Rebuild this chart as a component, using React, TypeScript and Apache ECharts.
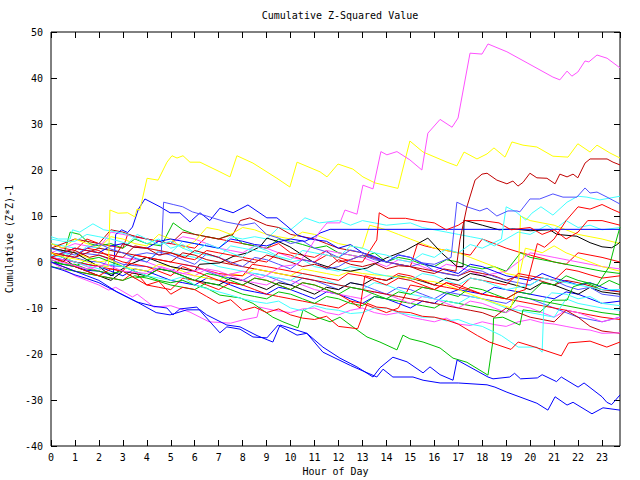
import React, { useEffect, useRef } from "react";
import * as echarts from "echarts";

// ---- colours ----
const RED = "#ff0000";
const GREEN = "#00c000";
const BLUE = "#0000ff";
const MAGENTA = "#ff50ff";
const CYAN = "#40ffff";
const YELLOW = "#ffff00";
const BLACK = "#000000";
const DARKRED = "#c00000";
const MBLUE = "#5050ff";

// ---- axis ----
const X_MIN = 0;
const X_MAX = 23.75;
const Y_MIN = -40;
const Y_MAX = 50;
const TITLE = "Cumulative Z-Squared Value";
const X_NAME = "Hour of Day";
const Y_NAME = "Cumulative (Z*Z)-1";

// ---- series data: [hour, cumulative value] ----
const magentaTop = [[0,0.5],[0.8,-0.5],[1.5,-1.5],[2.3,-0.5],[3,-2],[4,-2.5],[4.6,-1],[5.5,-2.5],[6.3,-1.5],[7.2,-3],[8,-2],[8.8,-3.5],[9.6,-1],[10.3,-0.5],[10.8,3],[11.2,6.5],[11.52,8.5],[12.06,8.5],[12.27,11.3],[12.77,10.4],[13.02,16.7],[13.44,15.9],[13.77,24],[14.02,23.3],[14.44,24],[14.98,22.2],[15.48,20],[15.73,28],[16.24,31],[16.74,29.3],[16.99,31.3],[17.49,45.4],[17.99,45.2],[18.24,47.4],[19.03,45.7],[19.87,43.3],[20.95,40.2],[21.24,39.6],[21.54,41.5],[21.74,40.4],[21.99,41.3],[22.29,43.7],[22.45,43.5],[22.79,45],[23.21,44.3],[23.75,42.2]];
const yellowHigh = [[0,2],[0.6,1],[1.2,0.5],[1.8,-0.5],[2.4,-1],[2.46,11.3],[2.8,10.6],[3.2,10.7],[3.5,9.8],[3.59,11.5],[3.71,11.3],[4.01,18.2],[4.47,17.8],[4.84,21.7],[5.05,23.1],[5.26,22.6],[5.51,23.1],[5.8,21.7],[6.22,21.7],[7.05,19.6],[7.47,18.5],[7.76,23.1],[8.43,21.5],[9.43,18.2],[9.97,16.3],[10.27,21.7],[11.23,19.6],[11.52,18.5],[11.98,21.3],[12.6,20.2],[13.02,18.5],[13.52,17.2],[14.48,16],[14.98,26.3],[15.53,23.9],[16.53,21.7],[16.94,20.9],[17.24,23.9],[17.78,22.4],[18.2,23.5],[18.49,24.8],[18.95,22.8],[19.24,26.1],[19.7,25.4],[20.28,25],[20.95,23],[21.58,22.8],[21.99,25.7],[22.5,23.9],[22.79,25.4],[23.33,23.7],[23.75,22.6]];
const darkRedHigh = [[0,1],[0.5,0],[1,2.5],[1.6,1],[2,1.5],[2.6,0.5],[3,4],[3.5,3.2],[4,3],[4.5,1.5],[5,2],[5.6,1],[6,2.5],[6.5,1.8],[7,1],[7.5,-0.3],[8,0.5],[8.5,-0.2],[9,1.5],[9.5,0.8],[10,0],[10.5,-1],[11,-0.5],[11.5,-1.3],[12,0.5],[12.5,-0.5],[13,-1],[13.5,-0.3],[14,-1.5],[14.5,-0.8],[15,-1],[15.5,-2],[16,-2.5],[16.4,-1.5],[16.9,-2],[17.07,4.8],[17.36,12],[17.7,17.8],[17.99,19.1],[18.2,19.3],[18.61,17.8],[19.03,17],[19.28,17.6],[19.49,16.5],[19.7,17.3],[19.99,19.3],[20.28,18.3],[20.7,18.2],[21.04,17],[21.24,19.1],[21.54,18.5],[21.79,19.1],[21.99,18.3],[22.29,21.5],[22.5,22.4],[23.21,22.4],[23.46,21.7],[23.75,21.1]];
const mblueHigh = [[0,3],[0.5,2.2],[1,1.5],[1.5,3],[2,4],[2.5,2.8],[3,2],[3.5,0.8],[4,0],[4.5,2.2],[5,1.5],[5.5,0.5],[6,-0.5],[6.5,1.8],[7,1],[7.5,0],[8,-1],[8.5,1],[9,0.5],[9.5,-0.5],[10,-1.5],[10.5,0.5],[11,0],[11.5,-1.5],[12,-1],[12.5,0.5],[13,1.5],[13.5,0.5],[14,0],[14.5,1.6],[15,1],[15.5,-0.2],[16,-0.5],[16.7,1],[16.94,13],[17.36,12],[17.9,11.1],[18.2,11.7],[18.61,10],[19.07,11.1],[19.45,11.1],[19.57,10.9],[19.99,13.7],[20.4,13.7],[20.95,14.8],[21.37,14.1],[21.95,14.1],[22.29,16.1],[22.5,15],[22.79,15.2],[23.21,14.1],[23.75,12.6]];
const cyanHigh = [[0,5],[0.5,4.5],[1,4.5],[1.5,6],[2,5.5],[2.5,5],[3.2,4],[3.6,6],[4,5],[4.5,3.8],[5,4.5],[5.5,3],[6,2],[6.5,4],[7,3],[7.5,2],[8,1],[8.5,3.5],[9,2.5],[9.5,1.2],[10,0.5],[10.5,2.5],[11,2],[11.5,1.5],[12,1],[12.5,3.5],[13,3],[13.5,2],[14,1.5],[14.5,0.5],[15,0],[15.5,1.8],[16,1],[16.5,2.8],[17,2],[17.5,3.8],[18,3],[18.4,4],[18.8,5],[19.0,12],[19.41,10.9],[19.82,9.1],[20.07,10.6],[20.45,12],[20.95,10.2],[21.54,13],[21.99,14.3],[22.37,14.1],[22.91,13.5],[23.33,13.9],[23.75,14.3]];
const blueLowA = [[0,0],[0.5,-1],[1,-2],[1.5,-3],[2,-4],[2.75,-6.5],[3.59,-8.7],[4.26,-9.6],[4.84,-10],[5.09,-11.5],[5.38,-10.2],[6.09,-9.8],[7.05,-15.4],[7.34,-14.1],[7.89,-14.6],[8.43,-16.3],[9.01,-16.5],[9.48,-13.7],[10.27,-15.9],[10.68,-15.5],[11.35,-18.5],[12.06,-20.9],[12.77,-22.8],[13.44,-25],[13.73,-23],[14.27,-20.7],[14.86,-21.7],[15.53,-24.1],[15.82,-22.8],[16.24,-24.5],[16.78,-25.7],[16.95,-21.3],[18.24,-25],[18.45,-25.4],[19.15,-25],[19.35,-24.2],[19.6,-25.4],[20.3,-25.2],[20.5,-24.5],[21.1,-26],[21.3,-25],[22.0,-27.2],[22.25,-26.3],[23.0,-29.3],[23.2,-30.5],[23.4,-31],[23.75,-28.9]];
const blueLowB = [[0,-1],[0.5,-1.8],[1,-2.8],[1.5,-3.6],[2,-4.5],[2.75,-6.5],[3.59,-8.7],[4.39,-11],[4.97,-11.5],[5.67,-10.4],[6.22,-10.4],[6.5,-11.5],[7.34,-13.7],[7.89,-14.1],[8.6,-16],[9.26,-17.4],[9.56,-13.7],[10.68,-15.5],[11.35,-19.6],[12.5,-22.5],[13.6,-25],[13.86,-23.3],[14.27,-25],[15.11,-25],[15.53,-25.7],[16.24,-26.3],[17.0,-26.3],[18.2,-26.7],[18.53,-27.2],[19.03,-28.3],[20.28,-30.7],[20.74,-32.2],[21.04,-29.3],[21.54,-31.1],[21.79,-30.5],[22.58,-33],[23.04,-31.7],[23.75,-32.2]];
const greenJump = [[0,0.5],[0.5,-0.5],[1,-0.5],[1.5,-1.5],[2,-2],[2.5,-2.5],[3,-2],[3.5,-3.5],[4,-3],[4.5,-4],[5,-4.5],[5.5,-4],[6,-5],[6.5,-5.7],[7.05,-7.2],[7.89,-7.8],[8.43,-9],[9.26,-12],[9.68,-13],[10.31,-14.3],[10.52,-10.4],[11.1,-12],[11.65,-13],[12.06,-12],[12.6,-14.1],[13.19,-16.3],[13.73,-17.4],[14.44,-19.1],[14.69,-15.9],[14.98,-16.7],[15.53,-17.4],[16.24,-18.7],[16.78,-20.9],[17.36,-21.8],[18.24,-24.6],[18.45,-17],[18.47,-12.2],[18.86,-12],[19.57,-13.7],[19.7,-10.4],[20.41,-10.9],[20.95,-8.3],[21.54,-8.3],[21.79,-5.4],[22.3,-4.5],[22.8,-5.5],[23.3,-4],[23.75,-5]];
const redLow = [[0,1],[0.5,0.2],[1,-1],[1.5,-2],[2,-3],[2.5,-1.5],[3,-2],[3.5,-3.5],[4,-5],[4.5,-4.2],[5,-7],[5.5,-5.5],[6,-6],[6.5,-7.5],[7,-9],[7.5,-8.2],[8,-10.5],[8.5,-9.8],[9,-11],[9.5,-10.2],[10,-11.5],[10.5,-12.2],[11,-12.5],[11.5,-11.8],[12,-14],[12.8,-14.5],[13.2,-9],[13.6,-9.8],[14,-10],[14.5,-10.8],[15,-11],[15.5,-11.8],[16,-12],[16.5,-12.6],[17,-13.5],[17.8,-16],[18.3,-17.4],[19.2,-19],[19.5,-17.4],[20.2,-18.5],[21.3,-20.4],[21.6,-17.6],[22.5,-17.2],[23.2,-18.5],[23.75,-17.4]];
const blackOne = [[0,3],[0.5,2.5],[1,2],[1.5,0.5],[2,-1],[2.5,-3],[3.3,-0.5],[4,1],[4.5,0],[5,-1],[5.5,-1.5],[6,-2],[6.2,-0.5],[7.05,-0.2],[7.6,1.2],[8.2,2],[8.72,3.3],[9.01,5.2],[9.56,4.3],[9.97,3.3],[10.5,1.5],[10.94,0],[11.52,-1],[12.06,-1.7],[12.5,-2],[13.2,-1.3],[14.0,0.9],[14.8,2.5],[15.73,5.2],[16.3,2],[16.95,-1],[17.2,-1],[17.24,9.1],[18.0,8],[18.7,7],[19.3,7.2],[20.0,6.8],[20.82,7],[21.12,6],[21.95,5.6],[22.5,4.2],[23.0,3.3],[23.4,3.1],[23.6,3.7],[23.75,4.3]];
const blueFlat = [[0,1],[0.5,2],[1,3],[1.5,2.5],[2,2],[2.5,3.5],[3,4],[3.5,3.2],[4,3],[4.5,4.5],[5,5],[5.5,4.5],[6,4],[6.5,3.5],[7,3],[7.5,5],[8,4.5],[8.5,3.8],[9,3.5],[9.5,4.4],[10,5],[10.6,4.5],[11.0,5.5],[11.23,6.3],[11.65,7.1],[23.75,7.1]];
const bluePeak = [[0,0],[0.5,-0.5],[1,-1],[1.5,-1.8],[2,-2],[2.6,-3],[2.7,6],[2.95,7],[3.2,6.4],[3.4,7.6],[3.65,11.5],[3.92,13.7],[4.55,12],[4.97,10.7],[5.38,10.7],[5.8,8.7],[6.22,10.7],[6.63,9],[7.05,11.7],[7.6,10.7],[8.22,12.4],[9.01,9.6],[9.43,9.6],[9.85,7.8],[10.27,5.9],[10.8,5],[11.5,4.5],[12,3],[12.5,3.8],[13,2],[13.5,1.2],[14,0],[14.5,1.5],[15,1],[15.5,-0.3],[16,-1],[16.5,-1.8],[17,-2.5],[17.5,-0.5],[18,-1],[18.5,-2],[19,-3],[19.5,-3.5],[20,-4],[20.5,-2.5],[21,-3.5],[21.5,-4.2],[22,-5],[22.5,-4.5],[23,-5.5],[23.4,-6.2],[23.75,-6]];
const mblueTwo = [[0,2],[0.5,1.5],[1,1],[1.5,0.2],[2,0],[2.5,-0.8],[3,-1],[3.5,1.5],[4,2],[4.6,1.5],[4.7,13],[5.1,12.5],[5.5,12],[5.9,10.9],[6.5,10],[7.3,8.7],[8,8],[8.5,8.5],[9,6],[9.5,5.2],[10,4],[10.5,4.6],[11,3],[11.5,2.2],[12,1],[12.5,2.6],[13,2],[13.5,0.8],[14,0],[14.5,-0.5],[15,-1],[15.5,-0.2],[16,-2],[16.5,-2.6],[17,-3],[17.5,-1.5],[18,-2],[18.5,-3.2],[19,-4],[19.5,-4.5],[20,-5],[20.5,-3.5],[21,-4],[21.5,-5.2],[22,-6],[22.5,-5.5],[23,-7],[23.75,-7.5]];
const cyanLow = [[0,1.5],[0.5,1],[1,0],[1.5,-0.8],[2,-1.5],[2.5,-0.5],[3,-1],[3.5,-2],[4,-3],[4.5,-3.5],[5,-4],[5.5,-3.2],[6,-5],[6.5,-5.8],[7,-6.5],[7.5,-7.2],[8,-8],[8.5,-8.6],[9,-9],[9.5,-8.5],[10,-10],[10.5,-10.6],[11,-9.5],[11.5,-10.2],[12,-10.5],[12.5,-11.2],[13,-11],[13.5,-10],[14,-10],[14.5,-11],[15,-11.5],[15.5,-12],[16,-12],[16.5,-12.8],[17,-12.5],[17.5,-13.5],[18,-14],[18.8,-16],[19.5,-18.5],[20.28,-18.5],[20.5,-19.6],[20.58,-8.3],[20.9,-6.7],[21.5,-7],[22,-8],[22.5,-7.5],[23,-9],[23.75,-9.5]];
const magentaLow = [[0,0],[0.5,-1.5],[1,-3],[1.5,-4],[2,-5],[2.4,-6.1],[2.7,-5.5],[3.4,-7.6],[3.6,-7],[4.3,-9.8],[5,-9.5],[5.8,-10.9],[6.6,-13],[7.5,-13.3],[8.0,-12.6],[8.6,-12],[8.7,-9.8],[9.3,-10.5],[10,-11],[10.5,-10.2],[11,-10],[11.5,-11],[12,-11.5],[12.5,-10.5],[13,-10],[13.5,-11],[14,-11.5],[14.5,-11],[15,-12],[15.5,-12.5],[16,-13],[16.5,-12.2],[17,-13.5],[17.5,-13.8],[18,-13],[18.5,-13.6],[19,-14],[19.5,-13],[20,-12.5],[20.5,-13.2],[21,-13.5],[21.5,-14],[22,-14.5],[22.5,-14.8],[23,-15.5],[23.75,-15.4]];
const redA = [[0,4],[0.5,3],[1,2.5],[1.5,5],[2,4],[2.5,3.5],[3,3],[3.2,6],[3.6,5.5],[4,5],[4.5,4.5],[5,4],[5.5,3.5],[6,3],[6.5,5.5],[7,5],[7.5,4.5],[8,4],[8.5,3.5],[9,3],[9.5,4],[10,2],[10.5,1.5],[11,1],[11.5,2.5],[12,0],[12.5,0.5],[13,1.5],[13.5,0.8],[14,0],[14.5,-0.5],[15,-1],[15.3,4],[15.6,3.5],[16,3],[16.5,2.5],[17,2],[17.5,1.5],[18,5],[18.5,4],[19,3],[19.5,2.2],[20,1.5],[20.5,0.8],[21,0],[21.5,-0.5],[22,2],[22.5,1.5],[23,1],[23.75,0]];
const redB = [[0,2],[0.5,1],[1,0],[1.5,-0.5],[2,-1],[2.5,-1.5],[3,-2],[3.5,1.5],[4,1],[4.5,0.5],[5,0],[5.5,-0.5],[6,-1],[6.5,-1.8],[7,-2.5],[7.5,-2.8],[8,-3],[8.4,-0.5],[9,-1],[9.5,-1.5],[10,-2],[10.5,-2.5],[11,-3],[11.5,-3.5],[12,-4],[12.4,-2.5],[13,-3],[13.5,-4],[14,-5],[14.5,-3.5],[15,-4],[15.5,-5],[16,-6],[16.5,-4.5],[17,-5],[17.5,-6],[18,-7],[18.5,-7.5],[19,-8],[19.5,-6.5],[19.8,-6],[20.3,4],[20.6,3.2],[21,5],[21.5,9],[22,12],[22.5,11.5],[23,12.5],[23.4,11.5],[23.75,10.7]];
const redC = [[0,1],[0.5,2],[1,3],[1.5,2.5],[2,2],[2.5,1.5],[3,1],[3.5,3.5],[4,3],[4.5,2.5],[5,2],[5.5,1],[6,0.5],[6.5,2.5],[7,2],[7.5,1.5],[8,1],[8.5,0.5],[9,0],[9.5,2],[10,1.5],[10.5,0.5],[11,0],[11.5,1.5],[12,1],[12.5,0.2],[13,0],[13.6,4.8],[13.7,10.7],[14.1,9.5],[14.8,9.5],[15.3,9],[16,8.5],[16.5,7],[17,8],[17.3,9],[18,9],[18.7,8.5],[19.2,7],[20,7.5],[20.5,6],[21,7],[21.5,5],[22,6.5],[22.4,9],[23,9],[23.75,8]];
const greenEnd = [[0,0],[0.5,-0.5],[1,-1],[1.5,0.5],[2,1],[2.5,0],[3,-1],[3.5,-2],[4,-3],[4.5,-1.5],[5,-2],[5.5,-3],[6,-4],[6.5,-2.5],[7,-3],[7.5,-4],[8,-5],[8.5,-3.5],[9,-4],[9.5,-5],[10,-6],[10.5,-4.5],[11,-5],[11.5,-6],[12,-7],[12.5,-5.5],[13,-6],[13.5,-7],[14,-8],[14.5,-6.5],[15,-7],[15.5,-5.5],[16,-6],[16.5,-6.8],[17,-7.5],[17.5,-5.5],[18,-6],[18.5,-7],[19,-8],[19.5,-6.5],[20,-7],[20.5,-4.5],[21,-5],[21.5,-3],[22,-4],[22.8,-5],[23.3,-1],[23.5,3],[23.75,7.6]];
const greenUpper = [[0,2],[0.5,1],[0.8,6.5],[1.2,6],[1.6,4],[2,3.5],[2.5,4],[3,3],[3.5,5],[4,4],[4.6,3.5],[5.1,8.5],[5.5,7],[6,6],[6.5,5.5],[7,5],[7.5,6],[8,4],[8.5,3.5],[9,3],[9.5,5],[10,4.5],[10.5,3.8],[11,3],[11.5,3.5],[12,2],[12.5,1.5],[13,1],[13.5,2],[14,0],[14.5,1],[15,0.5],[15.5,-0.5],[16,-1],[16.5,0.5],[17,0],[17.5,-1],[18,-1.5],[18.5,-1],[19,-2],[19.6,2],[20,1],[20.5,0.5],[21,0],[21.5,-0.5],[22,-1],[22.5,-1.5],[23,-2],[23.75,-2.5]];
const greenMid = [[0,-1],[0.5,-1.5],[1,-2],[1.5,-2.5],[2,-3],[2.5,-3.5],[3,-4],[3.5,-3],[4,-3.5],[4.5,-4.2],[5,-5],[5.5,-5.5],[6,-6],[6.5,-4.5],[7,-5],[7.5,-6],[8,-7],[8.5,-7.5],[9,-8],[9.5,-6.5],[10,-7],[10.5,-8],[11,-9],[11.5,-7.5],[12,-8],[12.5,-9],[13,-9.5],[13.5,-7.5],[14,-8],[14.5,-8.5],[15,-9],[15.5,-9.5],[16,-10],[16.5,-8.5],[17,-9],[17.5,-9.5],[18,-10],[18.5,-10.5],[19,-11],[19.5,-7.5],[20,-8],[20.5,-8.5],[21,-9],[21.5,-9.5],[22,-10],[22.5,-10.5],[23,-11],[23.75,-11.5]];
const cyanMid = [[0,3],[0.5,2],[1,1],[1.5,3.5],[2,3],[2.5,2.5],[3,2],[3.5,1],[4,0],[4.5,2.5],[5,2],[5.5,1.5],[6,1],[6.5,0],[7,-1],[7.5,-1.5],[8,-2],[8.5,-2.5],[9,-3],[9.5,-3.5],[10,-4],[10.5,-2.5],[11,-3],[11.5,-4],[12,-5],[12.5,-5.5],[13,-6],[13.5,-4.5],[14,-5],[14.5,-6],[15,-7],[15.5,-7.5],[16,-8],[16.5,-8.5],[17,-9],[17.5,-7.5],[18,-8],[18.5,-9],[19,-10],[19.5,-10.5],[20,-11],[20.5,-11.5],[21,-12],[21.5,-8],[22,-9],[22.5,-9.5],[23,-10],[23.75,-10.5]];
const cyanUpper = [[0,4],[0.5,3.5],[1,3],[1.5,2.5],[2,2],[2.5,1.5],[3,1],[3.5,3.5],[4,3],[4.5,2.5],[5,2],[5.5,4.5],[6,4],[6.5,3.5],[7,3],[7.5,5.5],[8,5],[8.5,5.5],[9,5],[9.5,7.5],[10,7],[10.6,9.6],[11.2,8.5],[12,9],[12.5,8],[13,9],[13.5,8.5],[14,8],[15,8.5],[15.5,7.5],[16,7],[16.5,6.5],[17,6],[17.5,5.5],[18,5],[18.5,3.5],[19,5],[19.5,6.5],[20,6],[20.7,8],[21,7],[21.5,9],[22,7.5],[22.5,8],[23,7],[23.75,7.5]];
const cyanStart = [[0,5.5],[0.3,5],[0.8,5],[0.9,7],[1.2,6.5],[1.75,8.3],[2.2,7],[2.8,6.5],[3.2,6],[3.6,5],[4,4],[4.5,5],[5,3],[5.5,3.8],[6,2],[6.5,1.5],[7,1],[7.5,3.5],[8,3],[8.5,2.5],[9,2],[9.5,1],[10,0],[10.5,0.5],[11,-1],[11.5,-1.5],[12,-2],[12.5,-1],[13,-1.5],[13.5,-2.5],[14,-3],[14.5,-3.5],[15,-4],[15.5,-2.5],[16,-3],[16.5,-4],[17,-5],[17.5,-3.5],[18,-4],[18.5,-5],[19,-6],[19.5,-5.5],[20,-5],[20.5,-3.5],[21,-4],[21.5,-4.5],[22,-5],[22.5,-5.5],[23,-6],[23.75,-6]];
const magentaMid = [[0,1],[0.5,0.5],[1,0],[1.5,-1],[2,-2],[2.5,1.5],[3,1],[3.5,0.5],[4,0],[4.5,-1],[5,-2],[5.5,-2.5],[6,-3],[6.5,-1.5],[7,-2],[7.5,-3],[8,-4],[8.5,-4.5],[9,-5],[9.5,-3.5],[10,-4],[10.5,-5],[11,-6],[11.5,-6.5],[12,-7],[12.5,-7.5],[13,-8],[13.5,-6.5],[14,-7],[14.5,-8],[15,-9],[15.5,-7.5],[16,-8],[16.5,-9],[17,-10],[17.5,-8.5],[18,-9],[18.5,-10],[19,-11],[19.5,-9.5],[20,-10],[20.5,-11],[21,-12],[21.5,-10.5],[22,-11],[22.5,-12],[23,-13],[23.75,-12]];
const magentaUpper = [[0,2],[0.5,3],[1,4],[1.5,3.5],[2,3],[2.5,6.5],[3,6],[3.5,5.5],[4,5],[4.5,4.5],[5,4],[5.5,5.5],[6,5],[6.5,4],[7,3],[7.5,2.5],[8,2],[8.5,3.5],[9,3],[9.5,2],[10,1],[10.5,0.5],[11,0],[11.5,2.5],[12,2],[12.5,1.5],[13,1],[13.5,0],[14,-1],[14.5,0.5],[15,0],[15.5,-1],[16,-2],[16.5,-0.5],[17,-1],[17.5,-2],[18,-3],[18.5,-2.5],[19,-2],[19.5,0],[20,2],[20.5,1.5],[21,1],[21.5,0.5],[22,0],[22.5,-0.5],[23,-1],[23.75,-1.5]];
const yellowMid = [[0,4],[0.5,3],[1,5],[1.5,4],[2,3],[2.5,5.5],[3,5],[3.5,4],[4,3.5],[4.5,6],[5,5],[5.5,3],[6,4.5],[6.5,7.5],[7,7],[7.5,6],[8,7.5],[8.5,7],[9,6],[9.5,5.5],[10,5],[10.5,6.5],[11,6],[11.5,5],[12,4],[12.5,3.5],[13,3],[13.3,8],[14,7],[14.5,6],[15,5],[15.5,4],[16,3],[16.5,2.5],[17,2],[17.5,1],[18,0],[18.5,-1],[19,-2.5],[19.5,-3],[19.6,10],[20,9],[20.5,8.5],[21,8],[21.5,7],[22,6],[22.5,5.5],[23,5],[23.75,4]];
const yellowLow = [[0,3],[0.5,2.5],[1,2],[1.5,1],[2,0],[2.5,0.5],[3,-1],[3.5,-1.5],[4,-2],[4.5,-0.5],[5,-1],[5.5,-2],[6,-3],[6.5,-3.5],[7,-4],[7.5,-2.5],[8,-3],[8.5,-1.5],[9,-2],[9.5,-2.5],[10,-3],[10.5,-1.5],[11,-2],[11.5,-2.5],[12,-3],[12.5,-2],[13,-2.5],[13.5,-2.8],[14,-3],[14.5,-3.2],[15,-3.5],[15.5,-4],[16,-4.3],[16.5,-5],[17,-6],[17.5,-7],[18,-8],[18.6,-9],[19.2,-10],[19.5,-4],[19.8,3],[20.2,2.5],[20.5,2],[21,3.5],[21.5,2],[22,1],[22.5,0],[23,-1],[23.75,-2]];
const darkRedMid = [[0,2],[0.5,1.5],[1,1],[1.5,2],[2,3],[2.5,2.5],[3,2],[3.5,1.5],[4,1],[4.5,0.5],[5,0],[5.5,2],[6,1.5],[6.5,0.5],[7,0],[7.5,-0.5],[8,-1],[8.5,-1.5],[9,-2],[9.5,-2.5],[10,-3],[10.5,-3.5],[11,-4],[11.5,-4.5],[12,-5],[12.5,-5.5],[13,-6],[13.5,-6.5],[14,-7],[14.5,-7.5],[15,-8],[15.5,-8.5],[16,-9],[16.5,-9.5],[17,-10],[17.5,-10.5],[18,-11],[18.5,-12],[19,-10],[19.5,-11],[20,-12],[20.5,-12.5],[21,-13],[21.5,-10.5],[22,-12],[22.5,-14],[23,-15],[23.75,-15.5]];
const darkRedUpper = [[0,3],[0.5,4],[1,5],[1.5,4.5],[2,4],[2.5,7],[3,6.5],[3.5,5.5],[4,5],[4.5,4.5],[5,4],[5.5,6.5],[6,6],[6.5,5.5],[7,5],[7.6,6],[7.9,9],[8.3,9.6],[9,8],[9.5,7.5],[10,6],[10.5,5.5],[11,5],[11.5,4],[12,3],[12.5,2.5],[13,2],[13.5,1],[14,0],[14.5,-0.5],[15,-1],[15.5,-1.5],[16,-2],[16.5,-2.5],[17,-3],[17.5,-2],[18,-2.5],[18.5,-3],[19,-4],[19.5,-3],[20,-3.5],[20.5,-4.2],[21,-5],[21.5,-4],[22,-4.5],[22.5,-5.2],[23,-6],[23.75,-6.5]];
const blackTwo = [[0,2],[0.5,1],[1,-1],[1.5,-2],[2,-3],[2.5,-4],[3,-2],[3.5,-2.5],[4,-3],[4.5,-1.5],[5,-2],[5.5,-3],[6,-4],[6.5,-4.5],[7,-5],[7.5,-3.5],[8,-4],[8.5,-5],[9,-6],[9.5,-4.5],[10,-5],[10.5,-6],[11,-7],[11.5,-5.5],[12,-6],[12.5,-4.5],[13,-5],[13.5,-3.5],[14,-4],[14.5,-3],[15,-3.5],[15.5,-4.2],[16,-5],[16.5,-3.5],[17,-4],[17.5,-2.5],[18,-3],[18.5,-3.8],[19,-4.5],[19.5,-5.2],[20,-6],[20.5,-4.5],[21,-5],[21.5,-6],[22,-7],[22.5,-5.5],[23,-6.5],[23.75,-7]];
const blueMid = [[0,1],[0.5,0.5],[1,0],[1.5,-0.5],[2,-1],[2.5,-2],[3,-3],[3.5,-1.5],[4,-2],[4.5,-3],[5,-4],[5.5,-4.5],[6,-5],[6.5,-3.5],[7,-4],[7.5,-5],[8,-6],[8.5,-6.5],[9,-7],[9.5,-5.5],[10,-6],[10.5,-7],[11,-8],[11.5,-6.5],[12,-7],[12.5,-8],[13,-9],[13.5,-7.5],[14,-8],[14.5,-9],[15,-10],[15.5,-8.5],[16,-9],[16.5,-7],[17,-6],[17.5,-6.5],[18,-7],[18.5,-5.5],[19,-6],[19.5,-6.5],[20,-7],[20.5,-7.5],[21,-8],[21.5,-6.5],[22,-7],[22.5,-8],[23,-9],[23.75,-8.5]];
const mblueMid = [[0,3],[0.5,2.5],[1,2],[1.5,1.8],[2,1.5],[2.5,0.5],[3,-0.5],[3.5,-0.8],[4,-1],[4.5,-1.5],[5,-2],[5.5,-0.5],[6,-1],[6.5,-2],[7,-3],[7.5,-3.5],[8,-4],[8.5,-2.5],[9,-3],[9.5,-4],[10,-5],[10.5,-3.5],[11,-4],[11.5,-5],[12,-6],[12.5,-4.5],[13,-5],[13.5,-6],[14,-7],[14.5,-5.5],[15,-6],[15.5,-7],[16,-8],[16.5,-6.5],[17,-7],[17.5,-7.5],[18,-8],[18.5,-8.5],[19,-9],[19.5,-7.5],[20,-8],[20.5,-9],[21,-10],[21.5,-11],[22,-12],[22.5,-12.5],[23,-13],[23.75,-12]];
const redD = [[0,0],[0.5,-1],[1,-2],[1.5,-2.5],[2,-3],[2.5,-3.5],[3,-4],[3.5,-2],[4,-5],[4.5,-5.5],[5,-6],[5.5,-3.5],[6,-4],[6.5,-5],[7,-6],[7.5,-4.5],[8,-5],[8.5,-6],[9,-7],[9.5,-7.5],[10,-8],[10.5,-8.5],[11,-9],[11.5,-9.5],[12,-10],[12.5,-8.5],[13,-9],[13.5,-10],[14,-11],[14.5,-10],[15,-5],[15.5,-5.5],[16,-6],[16.5,-4.5],[17,-5.5],[17.5,-6.2],[18,-7],[18.5,-7.5],[19,-8],[19.5,-8.5],[20,-9],[20.5,-9.5],[21,-10],[21.5,-10.5],[22,-11],[22.5,-11.5],[23,-12],[23.75,-12.5]];
const redE = [[0,2],[0.5,1.5],[1,1],[1.5,3],[2,2.5],[2.5,1],[3,0],[3.5,-0.5],[4,-1],[4.5,-2],[5,-3],[5.5,-1],[6,-2],[6.5,-3],[7,-4],[7.5,-4.5],[8,-5],[8.5,-3.5],[9,-4],[9.5,-5],[10,-6],[10.5,-4.5],[11,-5],[11.5,-6],[12,-7],[12.5,-8.5],[12.9,-10],[13.1,-3],[13.5,-3.5],[14,-4],[14.5,-2.5],[15,-3],[15.5,-4],[16,-5],[16.5,-5.5],[17,-6],[17.5,-3.5],[18,-4],[18.5,-4.5],[19,-5],[19.5,-2.5],[20,-3],[20.5,-3.5],[21,-4],[21.5,-1.5],[22,-2],[22.5,-2.8],[23,-3.5],[23.75,-3]];

const SERIES_LIST: [number[][], string][] = [
  [redA, RED], [greenUpper, GREEN], [blueMid, BLUE], [magentaUpper, MAGENTA], [cyanUpper, CYAN],
  [darkRedUpper, DARKRED], [mblueMid, MBLUE], [yellowMid, YELLOW], [blackTwo, BLACK],
  [redD, RED], [greenMid, GREEN], [bluePeak, BLUE], [magentaMid, MAGENTA], [cyanMid, CYAN],
  [darkRedMid, DARKRED], [mblueTwo, MBLUE], [yellowLow, YELLOW], [blackOne, BLACK],
  [redE, RED], [greenEnd, GREEN], [blueFlat, BLUE], [magentaLow, MAGENTA], [cyanStart, CYAN],
  [redB, RED], [greenJump, GREEN], [blueLowA, BLUE], [cyanLow, CYAN], [redC, RED],
  [blueLowB, BLUE], [redLow, RED], [cyanHigh, CYAN], [mblueHigh, MBLUE],
  [darkRedHigh, DARKRED], [yellowHigh, YELLOW], [magentaTop, MAGENTA],
];

const FONT = "DejaVu Sans Mono";

export default function App() {
  const ref = useRef<HTMLDivElement>(null);
  useEffect(() => {
    if (!ref.current) return;
    const chart = echarts.init(ref.current, null, { renderer: "svg" });
    const labelStyle = { color: "#000", fontFamily: FONT, fontSize: 10 };
    const tick = { show: true, inside: true, length: 6, lineStyle: { color: "#000", width: 1 } };
    chart.setOption({
      animation: false,
      backgroundColor: "#ffffff",
      title: {
        text: TITLE,
        left: 335,
        top: 5,
        textAlign: "center",
        textStyle: { color: "#000", fontFamily: FONT, fontSize: 10, fontWeight: "normal" },
      },
      grid: {
        left: 51, right: 20, top: 32, bottom: 34,
        containLabel: false,
        outerBoundsMode: "none",
        show: true, borderColor: "#000", borderWidth: 1, backgroundColor: "transparent",
      },
      xAxis: [
        {
          type: "value", min: X_MIN, max: X_MAX, interval: 1,
          name: X_NAME, nameLocation: "middle", nameGap: 20,
          nameTextStyle: labelStyle,
          axisLine: { show: false, onZero: false },
          axisTick: tick,
          axisLabel: { ...labelStyle, margin: 6, showMaxLabel: false },
          splitLine: { show: false },
        },
        {
          type: "value", position: "top", min: X_MIN, max: X_MAX, interval: 1,
          axisLine: { show: false, onZero: false },
          axisTick: tick,
          axisLabel: { show: false },
          splitLine: { show: false },
        },
      ],
      yAxis: [
        {
          type: "value", min: Y_MIN, max: Y_MAX, interval: 10,
          name: Y_NAME, nameLocation: "middle", nameGap: 36, nameRotate: 90,
          nameTextStyle: labelStyle,
          axisLine: { show: false, onZero: false },
          axisTick: tick,
          axisLabel: { ...labelStyle, margin: 8 },
          splitLine: { show: false },
        },
        {
          type: "value", position: "right", min: Y_MIN, max: Y_MAX, interval: 10,
          axisLine: { show: false, onZero: false },
          axisTick: tick,
          axisLabel: { show: false },
          splitLine: { show: false },
        },
      ],
      series: SERIES_LIST.map(([data, color], i) => ({
        type: "line",
        name: "s" + i,
        data,
        xAxisIndex: 0,
        yAxisIndex: 0,
        symbol: "none",
        showSymbol: false,
        silent: true,
        lineStyle: { color, width: 1 },
        itemStyle: { color },
      })),
    });
    return () => chart.dispose();
  }, []);
  return (
    <div
      ref={ref}
      style={{ position: "fixed", left: 0, top: 0, width: 640, height: 480, background: "#fff" }}
    />
  );
}
